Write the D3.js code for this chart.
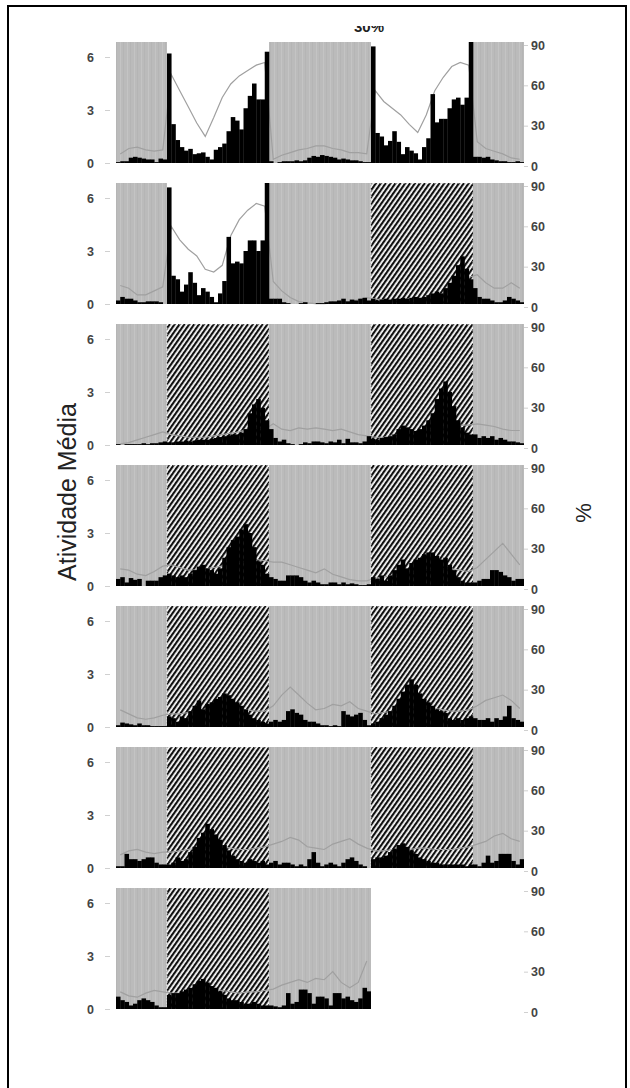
<!DOCTYPE html>
<html>
<head>
<meta charset="utf-8">
<script src="https://cdn.jsdelivr.net/npm/d3@7"></script>
<style>
body { margin: 0; background: #fff; }
svg { display: block; font-family: "Liberation Sans", Arial, sans-serif; }
</style>
</head>
<body>
<svg id="chart" width="630" height="1088"></svg>
<script>
// phase edges in hours, and phase of every panel (double plotted, 48 h per row)
var phaseEdges = [0, 6, 18, 30, 42, 48];
var phases = [
    ["dark", "light", "dark", "light", "dark"],
    ["dark", "light", "dark", "hatch", "dark"],
    ["dark", "hatch", "dark", "hatch", "dark"],
    ["dark", "hatch", "dark", "hatch", "dark"],
    ["dark", "hatch", "dark", "hatch", "dark"],
    ["dark", "hatch", "dark", "hatch", "dark"],
    ["dark", "hatch", "dark"]
];
var leftTicks = [0, 3, 6];
var rightTicks = [0, 30, 60, 90];

// mean activity, 30 min bins
var act1 = [0.05,0.1,0.1,0.3,0.35,0.3,0.25,0.2,0.2,0.05,0.25,0.2,
    6.2,2.2,1.3,0.9,0.7,0.8,0.5,0.55,0.6,0.35,0.2,0.75,0.9,1.1,1.8,2.6,2.4,1.9,3.1,3.8,4.5,3.6,3.6,6.3,
    0.1,0,0.05,0.1,0.1,0.1,0.15,0.1,0.15,0.3,0.4,0.35,0.45,0.4,0.35,0.3,0.2,0.25,0.2,0.15,0.15,0.1,0.05,0.05,
    6.6,1.7,1.5,1.0,1.25,1.8,1.2,0.5,0.9,0.7,0.55,0.2,0.9,1.4,3.9,2.3,2.5,2.5,3.1,3.6,3.7,3.3,3.7,6.9,
    0.35,0.35,0.3,0.35,0.2,0.15,0.1,0.1,0.05,0.05,0.1,0.05];
var act2 = [0.2,0.4,0.3,0.3,0.2,0.1,0.1,0.15,0.15,0.15,0.1,0.0,
    6.6,1.6,1.4,0.7,1.1,1.8,1.2,0.5,0.9,0.7,0.4,0.1,0.6,1.3,3.8,2.3,2.4,2.3,3.0,3.6,3.6,3.0,3.6,6.9,
    0.3,0.3,0.3,0.1,0.05,0.0,0.0,0.05,0.1,0,0,0.05,0.05,0.1,0.15,0.15,0.2,0.3,0.15,0.25,0.2,0.3,0.35,0.2,
    0.3,0.2,0.25,0.3,0.25,0.3,0.3,0.35,0.3,0.35,0.4,0.35,0.4,0.5,0.6,0.7,0.6,0.9,1.2,1.6,2.2,2.7,2.0,1.4,
    0.9,0.4,0.3,0.3,0.2,0.1,0.1,0.2,0.4,0.3,0.2,0.1];
var act3 = [0.05,0.0,0.05,0.05,0.05,0.05,0.1,0.05,0.1,0.1,0.15,0.2,
    0.15,0.15,0.2,0.2,0.25,0.2,0.25,0.3,0.3,0.3,0.35,0.4,0.45,0.5,0.55,0.6,0.6,0.7,0.9,1.8,2.3,2.6,2.1,1.4,
    0.9,0.4,0.2,0.3,0.1,0.05,0.0,0.05,0.15,0.1,0.2,0.2,0.15,0.1,0.2,0.15,0.3,0.1,0.35,0.15,0.15,0.1,0.2,0.5,
    0.35,0.3,0.4,0.45,0.5,0.6,0.9,1.1,1.0,0.9,0.8,0.9,1.1,1.4,1.8,2.6,3.2,3.6,3.0,2.2,1.4,1.0,0.7,0.6,
    0.6,0.4,0.5,0.4,0.5,0.3,0.4,0.3,0.2,0.2,0.15,0.1];
var act4 = [0.4,0.5,0.2,0.45,0.35,0.4,0.0,0.3,0.3,0.3,0.5,0.6,
    0.7,0.6,0.5,0.6,0.5,0.7,0.9,1.1,1.2,1.0,0.9,0.7,1.0,1.6,2.2,2.6,2.8,3.2,3.5,3.0,2.2,1.4,1.2,0.7,
    0.5,0.4,0.3,0.3,0.6,0.6,0.6,0.5,0.3,0.2,0.3,0.2,0.1,0.1,0.2,0.2,0.1,0.2,0.1,0.15,0.1,0.05,0.05,0.1,
    0.5,0.4,0.6,0.3,0.6,0.9,1.2,1.5,1.0,1.3,1.5,1.6,1.8,1.9,1.9,1.7,1.5,1.6,1.2,0.9,0.5,0.3,0.2,0.2,
    0.2,0.3,0.4,0.4,0.9,0.9,0.8,0.6,0.5,0.3,0.4,0.4];
var act5 = [0.1,0.25,0.2,0.15,0.1,0.2,0.1,0.1,0.05,0.05,0.05,0.05,
    0.6,0.5,0.3,0.6,0.5,0.9,1.2,1.5,1.0,1.3,1.4,1.6,1.7,1.9,1.8,1.6,1.4,1.2,1.0,0.7,0.5,0.4,0.3,0.2,
    0.3,0.4,0.3,0.4,0.9,1.0,0.8,0.7,0.4,0.3,0.3,0.2,0.1,0.1,0.05,0.1,0.05,0.9,0.7,0.6,0.7,0.8,0.4,0.1,
    0.2,0.3,0.5,0.7,0.9,1.2,1.6,2.0,2.4,2.7,2.4,1.9,1.6,1.4,1.2,1.0,0.9,0.8,0.5,0.4,0.5,0.4,0.5,0.6,
    0.5,0.4,0.4,0.5,0.3,0.5,0.4,0.6,1.2,0.5,0.4,0.3];
var act6 = [0.1,0.1,0.8,0.5,0.5,0.4,0.5,0.6,0.6,0.3,0.2,0.2,
    0.2,0.3,0.6,0.4,0.5,0.9,1.2,1.7,2.0,2.5,2.2,1.9,1.6,1.3,1.0,0.7,0.5,0.4,0.3,0.5,0.4,0.3,0.4,0.2,
    0.3,0.4,0.2,0.3,0.3,0.2,0.1,0.2,0.1,0.5,0.9,0.3,0.1,0.2,0.3,0.2,0.1,0.3,0.5,0.6,0.4,0.2,0.1,0.0,
    0.5,0.6,0.6,0.7,0.9,1.1,1.3,1.4,1.2,1.0,0.8,0.6,0.5,0.4,0.3,0.3,0.2,0.2,0.2,0.2,0.2,0.2,0.1,0.2,
    0.2,0.1,0.3,0.7,0.3,0.4,0.8,0.8,0.8,0.4,0.2,0.5];
var act7 = [0.7,0.5,0.4,0.2,0.3,0.5,0.6,0.5,0.4,0.2,0.1,0.1,
    0.8,0.9,0.9,1.0,1.1,1.2,1.4,1.6,1.7,1.5,1.3,1.2,1.0,0.8,0.6,0.5,0.5,0.4,0.3,0.3,0.4,0.3,0.2,0.2,
    0.2,0.15,0.1,0.2,0.9,0.3,0.4,1.1,1.1,0.9,0.3,0.7,0.7,0.6,0.2,0.9,0.9,0.6,0.7,0.5,0.4,0.6,1.2,1.0];

// percentage (right axis), hourly
var pct1 = [9,13,14,12,11,12, 68,56,44,32,22,36,51,61,67,71,75,77,
    5,8,10,12,13,15,15,13,12,10,10,9, 56,48,43,38,31,25,38,56,66,74,77,75, 18,13,11,9,6,5];
var pct2 = [16,14,9,9,12,15, 60,50,43,38,28,26,31,53,65,72,77,75,
    19,12,7,4,3,2.5,2.5,3,3.5,4,5.5,7, 6,5,5,5,6,6,7,8,10,14,20,22, 24,18,14,14,18,14];
var pct3 = [3,4,6,8,10,12, 10,9,8,8,8,9,10,11,12,14,15,14,
    18,14,13,15,14,15,14,13,14,12,10,9, 8,8,9,10,11,12,13,14,15,16,17,17, 18,17,16,14,13,13];
var pct4 = [15,14,11,10,13,17, 18,16,14,14,15,16,17,18,20,21,22,21,
    20,20,18,16,14,12,15,11,9,7,6,6, 8,9,10,11,12,13,14,15,15,15,14,13, 16,22,28,34,26,18];
var pct5 = [15,12,9,8,9,11, 12,12,13,14,15,16,17,17,16,15,14,14,
    18,26,32,26,20,15,16,19,18,21,16,14, 12,13,14,15,16,17,17,16,15,14,14,15, 18,22,24,26,22,16];
var pct6 = [12,15,16,14,13,14, 14,15,16,17,17,18,18,17,16,16,17,18,
    20,22,25,23,18,17,16,20,22,24,20,17, 15,15,16,16,16,17,17,16,16,16,17,18, 20,22,26,28,24,22];
var pct7 = [15,12,11,14,16,15, 14,14,15,16,17,17,16,15,14,15,15,16,
    17,20,22,24,22,25,24,30,22,18,22,38];

var activity = [act1, act2, act3, act4, act5, act6, act7];
var percent = [pct1, pct2, pct3, pct4, pct5, pct6, pct7];

//Layout
var plotLeft = 116, plotRight = 524;
var firstTop = 42, panelStep = 141, panelH = 121;
var binH = 0.5;

var svg = d3.select("#chart");
var defs = svg.append("defs");

// light grey texture for the dark phase
var gp = defs.append("pattern").attr("id", "grayTex")
    .attr("patternUnits", "userSpaceOnUse").attr("width", 7).attr("height", 4);
gp.append("rect").attr("width", 7).attr("height", 4).attr("fill", "#bbbbbb");
gp.append("rect").attr("x", 1).attr("width", 1).attr("height", 4).attr("fill", "#c4c4c4");
gp.append("rect").attr("x", 4).attr("width", 1).attr("height", 4).attr("fill", "#b5b5b5");

// diagonal hatch
var hp = defs.append("pattern").attr("id", "hatch")
    .attr("patternUnits", "userSpaceOnUse").attr("width", 4).attr("height", 10)
    .attr("patternTransform", "rotate(35)");
hp.append("rect").attr("width", 4).attr("height", 10).attr("fill", "#fff");
hp.append("rect").attr("width", 2.2).attr("height", 10).attr("fill", "#111");

var x = d3.scaleLinear().domain([0, 48]).range([plotLeft, plotRight]);

activity.forEach(function(vals, p) {
    var top = firstTop + p * panelStep;
    var base = top + panelH;
    var hours = vals.length * binH;
    var yL = d3.scaleLinear().domain([0, 6.85]).range([base, top]);
    var yR = d3.scaleLinear().domain([0, 90]).range([base + 3, top + 3]);
    var g = svg.append("g");

    defs.append("clipPath").attr("id", "clip" + p)
        .append("rect").attr("x", x(0)).attr("y", top)
        .attr("width", x(hours) - x(0)).attr("height", panelH + 1);

    // phase backgrounds
    var segs = phases[p].map(function(ph, i) {
        return {ph: ph, a: phaseEdges[i], b: Math.min(phaseEdges[i + 1], hours)};
    });
    g.selectAll(".bg").data(segs).enter().append("rect")
        .attr("x", function(d) { return x(d.a); })
        .attr("y", top)
        .attr("width", function(d) { return x(d.b) - x(d.a); })
        .attr("height", panelH)
        .attr("fill", function(d) {
            if (d.ph == "dark") return "url(#grayTex)";
            if (d.ph == "hatch") return "url(#hatch)";
            return "#fff";
        })
        .attr("stroke", function(d) { return d.ph == "hatch" ? "#fff" : "none"; })
        .attr("stroke-width", 0.8)
        .attr("stroke-dasharray", "1.5,1.5");

    var inner = g.append("g").attr("clip-path", "url(#clip" + p + ")");

    // percentage line
    var line = d3.line()
        .x(function(d, i) { return x(i + 0.5); })
        .y(function(d) { return yR(d); });
    inner.append("path").datum(percent[p])
        .attr("d", line)
        .attr("fill", "none")
        .attr("stroke", "#a0a0a0")
        .attr("stroke-width", 1.2);

    // activity bars
    inner.selectAll(".bar").data(vals).enter().append("rect")
        .attr("x", function(d, i) { return x(i * binH); })
        .attr("width", x(binH) - x(0) + 0.3)
        .attr("y", function(d) { return yL(d); })
        .attr("height", function(d) { return base - yL(d); })
        .attr("fill", "#000");

    // axes
    var la = g.append("g").attr("transform", "translate(110,0)")
        .call(d3.axisLeft(yL).tickValues(leftTicks).tickFormat(d3.format("d"))
            .tickSize(5).tickPadding(11));
    var ra = g.append("g").attr("transform", "translate(" + plotRight + ",0)")
        .call(d3.axisRight(yR).tickValues(rightTicks).tickFormat(d3.format("d"))
            .tickSize(4).tickPadding(3));
    [la, ra].forEach(function(a) {
        a.select(".domain").remove();
        a.selectAll("line").attr("stroke", "#d0d0d0");
        a.selectAll("text").attr("fill", "#444").attr("font-size", 12.5)
            .attr("font-weight", "bold")
            .attr("font-family", "Liberation Sans, Arial, sans-serif");
    });
});

// axis titles
svg.append("text")
    .attr("transform", "translate(76,492) rotate(-90)")
    .attr("text-anchor", "middle")
    .attr("font-size", 25)
    .attr("fill", "#222")
    .text("Atividade Média");
svg.append("text")
    .attr("transform", "translate(591,513) rotate(-90)")
    .attr("text-anchor", "middle")
    .attr("font-size", 22)
    .attr("fill", "#222")
    .text("%");

// cut off header at the top
defs.append("clipPath").attr("id", "clipTitle")
    .append("rect").attr("x", 300).attr("y", 26).attr("width", 120).attr("height", 8);
svg.append("text")
    .attr("x", 369).attr("y", 32)
    .attr("text-anchor", "middle")
    .attr("font-size", 15)
    .attr("font-weight", "bold")
    .attr("fill", "#222")
    .attr("clip-path", "url(#clipTitle)")
    .text("30%");

// outer frame
svg.append("rect")
    .attr("x", 8).attr("y", 6)
    .attr("width", 618).attr("height", 1100)
    .attr("fill", "none")
    .attr("stroke", "#000")
    .attr("stroke-width", 2);
</script>
</body>
</html>
